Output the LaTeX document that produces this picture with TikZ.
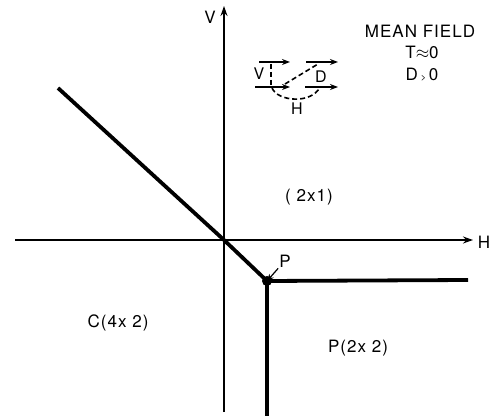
\documentclass[tikz,border=0pt]{standalone}
\usepackage{fontspec}
\setmainfont{TeX Gyre Heros}[LetterSpace=6]
\usetikzlibrary{arrows.meta}
\begin{document}
\begin{tikzpicture}[x=1pt,y=-1pt,
  axis/.style={line width=1.3pt,-{Stealth[length=10pt,width=7pt]}},
  phase/.style={line width=3.8pt},
  lbl/.style={font=\fontsize{17}{19}\selectfont,inner sep=1pt},
  small/.style={font=\fontsize{16}{18}\selectfont,inner sep=1pt},
  spin/.style={line width=1.4pt,-{Stealth[length=8pt,width=6pt]}},
  bond/.style={line width=1.6pt,dash pattern=on 5pt off 3pt}]
\useasboundingbox (0,0) rectangle (492,419);
% axes
\coordinate (hs) at (15,240);
\coordinate (he) at (473,240);
\coordinate (vs) at (224,412);
\coordinate (ve) at (224,6);
\coordinate (O) at (224,240);
\draw[axis] (hs) -- (he);
\draw[axis] (vs) -- (ve);
\node[lbl] (hl) at (484,242) {H};
\node[lbl] (vl) at (210,17) {V};
% phase lines
\coordinate (a) at (58,88);
\coordinate (Pt) at (267,281);
\coordinate (r) at (468,280);
\coordinate (b) at (267,416);
\draw[phase,line join=round] (a) -- (O) -- (Pt);
\draw[phase] (Pt) -- (r);
\draw[phase] (Pt) -- (b);
\fill (Pt) circle (5pt);
\node[lbl] (pl) at (285,261) {P};
\draw[line width=1.2pt,-{Stealth[length=7pt,width=6pt]}] (pl.south west) -- (Pt);
% region labels
\node[lbl] (r21) at (309,197) {( 2x1)};
\node[lbl] (c42) at (118,323) {C(4x 2)};
\node[lbl] (p22) at (358,348) {P(2x 2)};
% title
\node[lbl] (t1) at (420,31) {MEAN FIELD};
\node[lbl] (t2) at (422,52) {T$\approx$0};
\node[lbl] (t3) at (422,75) {D\,{\small>}\,0};
% inset
\coordinate (s1a) at (259,62);
\coordinate (s1b) at (290,62);
\coordinate (s2a) at (306,62);
\coordinate (s2b) at (338,62);
\coordinate (s3a) at (255,87);
\coordinate (s3b) at (290,87);
\coordinate (s4a) at (305,87);
\coordinate (s4b) at (338,87);
\draw[spin] (s1a) -- (s1b);
\draw[spin] (s2a) -- (s2b);
\draw[spin] (s3a) -- (s3b);
\draw[spin] (s4a) -- (s4b);
\coordinate (v1) at (271,64);
\coordinate (v2) at (271,86);
\draw[bond] (v1) -- (v2);
\coordinate (d1) at (285,84);
\coordinate (d2) at (318,64);
\draw[bond] (d1) -- (d2);
\coordinate (h1) at (272,88);
\coordinate (h2) at (320,87);
\draw[bond] (h1) .. controls (278,102) and (312,104) .. (h2);
\node[small] (vi) at (259,74) {V};
\node[small] (di) at (321,77) {D};
\node[small] (hi) at (297,109) {H};
\end{tikzpicture}
\end{document}
